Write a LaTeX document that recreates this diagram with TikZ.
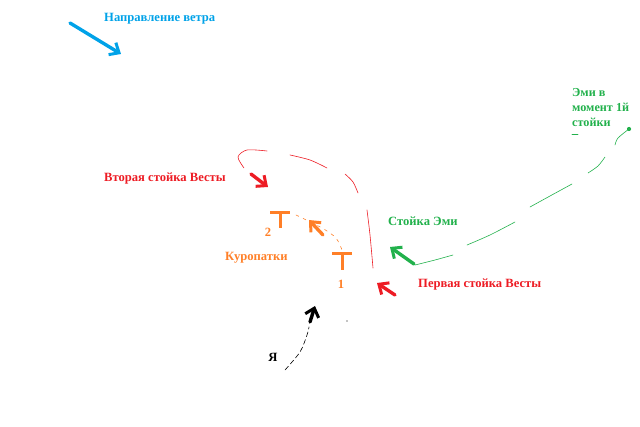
\documentclass[tikz,border=0pt]{standalone}
\usepackage{fontspec}
\setmainfont{Liberation Serif}
\usetikzlibrary{arrows.meta}
\definecolor{paintblue}{RGB}{0,162,232}
\definecolor{paintred}{RGB}{237,28,36}
\definecolor{paintorange}{RGB}{255,127,39}
\definecolor{paintgreen}{RGB}{34,177,76}
\tikzset{
  lbl/.style={font=\fontsize{12.6}{15}\selectfont\bfseries,inner sep=0pt,anchor=west},
  bigarrow/.style={line width=3.4pt,line cap=round,-{Straight Barb[length=8pt,width=14pt,line width=3pt]}},
  trail/.style={line width=.6pt,line cap=round},
}
\begin{document}
\begin{tikzpicture}[x=1pt,y=-1pt,line cap=round,line join=round]
\path[use as bounding box] (0,0) rectangle (640,427);
% wind
\draw[bigarrow,paintblue] (70,23) -- (121,54);
\node[lbl,text=paintblue] (wind) at (104,19) {Направление ветра};
% Vesta, second stand
\draw[trail,paintred] plot[smooth] coordinates {(244,168) (238,157) (247,150) (267,151)};
\draw[trail,paintred] plot[smooth] coordinates {(290,155) (310,160) (327,168)};
\draw[trail,paintred] plot[smooth] coordinates {(345,174) (353,182) (358,193)};
\draw[trail,paintred] plot[smooth] coordinates {(367,210) (370,235) (373,268)};
\draw[bigarrow,paintred] (251,174) -- (268,187);
\node[lbl,text=paintred] (second) at (104,179) {Вторая стойка Весты};
% Vesta, first stand
\draw[bigarrow,paintred] (395,295) -- (377,283);
\node[lbl,text=paintred] (first) at (418,285) {Первая стойка Весты};
% partridges
\draw[line width=3pt,paintorange,line cap=butt] (270,213) -- (290,213) (280,213) -- (280,228);
\draw[line width=3pt,paintorange,line cap=butt] (332,254) -- (352,254) (342,254) -- (342,270);
\node[lbl,text=paintorange,anchor=center] (two) at (268,232) {2};
\node[lbl,text=paintorange,anchor=center] (one) at (341,284) {1};
\node[lbl,text=paintorange] (birds) at (225,258) {Куропатки};
\draw[trail,paintorange,dash pattern=on 3pt off 5pt] plot[smooth] coordinates {(296,215) (322,228) (336,238) (342,250)};
\draw[bigarrow,paintorange] (323,235) -- (309,220);
% Emi
\draw[trail,paintgreen] plot[smooth] coordinates {(415,265) (435,260) (453,255)};
\draw[trail,paintgreen] plot[smooth] coordinates {(467,245) (490,235) (515,222)};
\draw[trail,paintgreen] plot[smooth] coordinates {(530,207) (550,196) (572,184)};
\draw[trail,paintgreen] plot[smooth] coordinates {(588,173) (598,166) (605,157)};
\draw[trail,paintgreen] plot[smooth] coordinates {(615,145) (618,138) (629,129)};
\fill[paintgreen] (629,129) circle (2.1pt);
\draw[trail,paintgreen] (572,134) -- (578,134);
\draw[bigarrow,paintgreen] (414,264) -- (390,247);
\node[lbl,text=paintgreen] (emi) at (388,221) {Стойка Эми};
\node[lbl,text=paintgreen,align=left,anchor=north west,font=\fontsize{12.2}{15}\selectfont\bfseries] (emistart) at (572,88) {Эми в\\момент 1й\\стойки};
% me
\node[lbl,anchor=center] (me) at (273,357) {Я};
\draw[trail,black,dash pattern=on 5pt off 3pt] plot[smooth] coordinates {(285,370) (300,352) (307,335) (309,327)};
\draw[bigarrow,black] (310,322) -- (315,306);
\fill[black] (347,321) circle (.6pt);
\end{tikzpicture}
\end{document}
